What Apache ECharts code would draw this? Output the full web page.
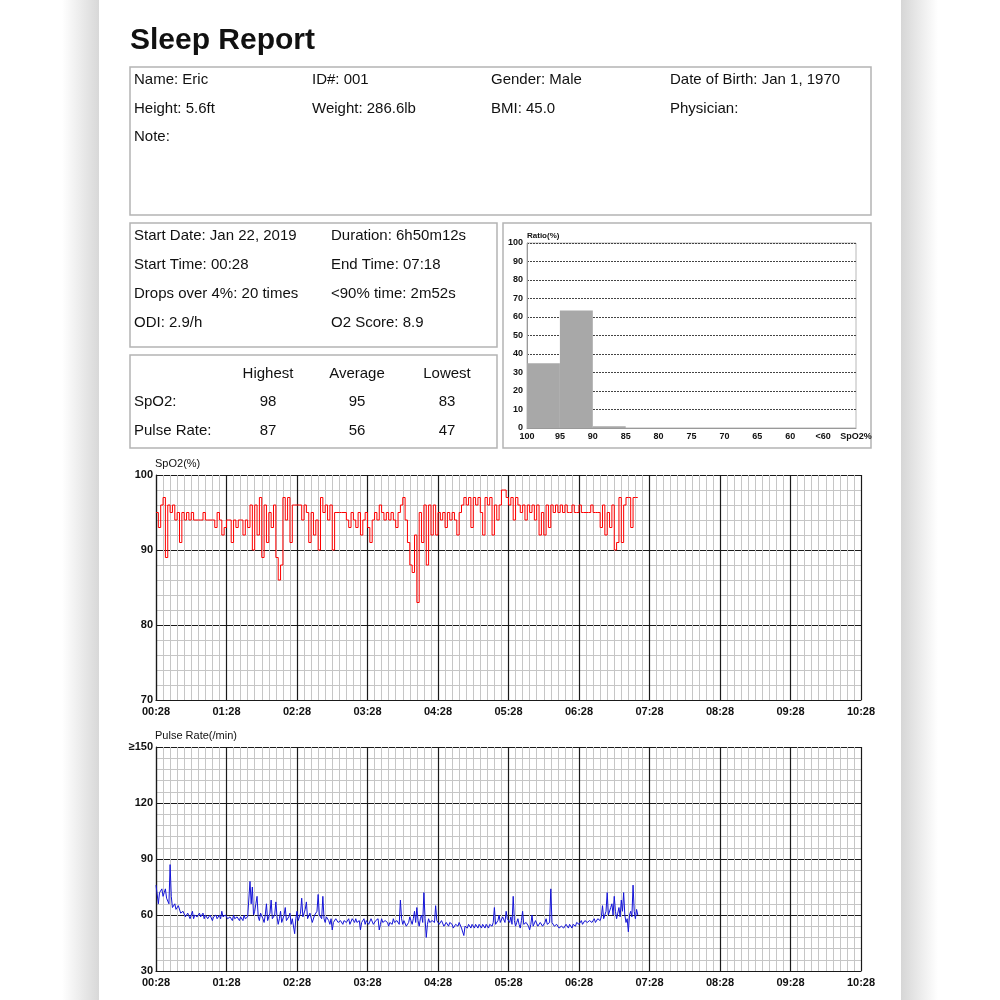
<!DOCTYPE html>
<html>
<head>
<meta charset="utf-8">
<title>Sleep Report</title>
<script src="https://cdn.jsdelivr.net/npm/echarts@6/dist/echarts.min.js"></script>
<style>
  html, body { margin: 0; padding: 0; background: #fff; }
  #chart { width: 1000px; height: 1000px; }
</style>
</head>
<body>
<div id="chart"></div>
<script>
// minutes between samples, counted from 00:28
const SPO2_STEP_MIN = 2
const PULSE_STEP_MIN = 1

const timeTicks = ['00:28', '01:28', '02:28', '03:28', '04:28', '05:28', '06:28', '07:28', '08:28', '09:28', '10:28']
const spo2Ticks = ['70', '80', '90', '100']
const pulseTicks = ['30', '60', '90', '120', '≥150']

// SpO2 histogram
const histTicks = ['100', '95', '90', '85', '80', '75', '70', '65', '60', '<60', 'SpO2%']
const histBins = ['100-95', '95-90', '90-85', '85-80', '80-75', '75-70', '70-65', '65-60', '60-<60', '<60']
const histRatio = [35, 63.5, 1, 0, 0, 0, 0, 0, 0, 0]

const spo2Values = [
  95, 93, 96, 97, 89, 96, 95, 96, 94, 95, 91, 95, 94, 95, 94, 95, 94, 94, 94, 94,
  95, 94, 94, 94, 94, 93, 95, 94, 92, 93, 94, 94, 91, 94, 93, 94, 94, 92, 94, 93,
  96, 90, 96, 92, 97, 89, 96, 91, 95, 93, 96, 89, 86, 88, 97, 94, 97, 91, 96, 96,
  96, 96, 94, 96, 95, 91, 95, 92, 94, 90, 97, 95, 96, 94, 96, 90, 95, 95, 95, 95,
  95, 94, 93, 95, 94, 93, 95, 92, 94, 95, 93, 91, 94, 95, 94, 96, 95, 94, 95, 94,
  95, 94, 93, 95, 96, 97, 94, 91, 88, 87, 92, 83, 95, 91, 96, 88, 96, 92, 96, 92,
  95, 94, 95, 93, 95, 94, 95, 94, 92, 95, 96, 97, 96, 97, 93, 97, 96, 97, 95, 92,
  97, 96, 97, 92, 96, 94, 96, 98, 98, 97, 96, 97, 94, 97, 96, 95, 96, 94, 96, 95,
  96, 94, 96, 92, 95, 92, 96, 93, 96, 95, 96, 95, 96, 95, 96, 95, 95, 96, 95, 95,
  96, 95, 95, 95, 95, 96, 95, 95, 95, 93, 96, 92, 95, 93, 96, 90, 91, 97, 91, 96,
  97, 97, 93, 97, 97, 97
]

const pulseValues = [
  76, 77, 66, 72, 73, 74, 70, 72, 74, 69, 68, 66, 87, 70, 64, 65, 66, 63, 62, 65,
  64, 61, 60, 62, 62, 59, 59, 61, 61, 58, 60, 62, 58, 60, 61, 59, 60, 61, 59, 60,
  61, 58, 60, 61, 58, 59, 60, 61, 57, 59, 59, 60, 58, 59, 60, 58, 62, 59, 58, 60,
  59, 58, 57, 59, 58, 57, 60, 58, 57, 59, 58, 57, 59, 58, 57, 60, 58, 57, 59, 58,
  78, 66, 75, 60, 62, 66, 70, 59, 57, 61, 62, 58, 56, 60, 66, 57, 58, 61, 68, 58,
  57, 60, 67, 59, 55, 58, 62, 56, 57, 60, 64, 57, 56, 59, 61, 55, 58, 57, 50, 58,
  62, 57, 56, 61, 69, 59, 60, 63, 67, 58, 58, 61, 60, 56, 57, 60, 59, 62, 71, 60,
  60, 58, 70, 58, 56, 59, 60, 57, 55, 58, 52, 56, 57, 58, 58, 56, 56, 57, 58, 55,
  57, 58, 56, 57, 58, 55, 56, 58, 57, 56, 58, 56, 56, 57, 52, 56, 57, 58, 55, 57,
  57, 55, 56, 58, 57, 55, 55, 57, 56, 58, 52, 55, 58, 56, 55, 57, 57, 56, 54, 56,
  56, 55, 58, 56, 55, 57, 57, 55, 68, 58, 55, 57, 58, 54, 53, 56, 59, 57, 55, 58,
  62, 56, 64, 57, 54, 58, 60, 56, 72, 58, 48, 55, 58, 56, 55, 57, 57, 56, 65, 57,
  56, 55, 55, 57, 56, 54, 54, 56, 55, 54, 56, 55, 55, 53, 54, 55, 55, 54, 56, 55,
  53, 54, 49, 54, 54, 53, 55, 54, 53, 55, 54, 53, 55, 54, 53, 55, 54, 53, 55, 54,
  53, 55, 54, 53, 55, 54, 54, 56, 64, 55, 55, 57, 60, 56, 56, 59, 58, 56, 62, 58,
  57, 56, 59, 55, 70, 57, 54, 56, 58, 55, 53, 57, 62, 55, 55, 56, 57, 54, 52, 55,
  60, 54, 55, 57, 57, 54, 53, 56, 56, 54, 55, 56, 58, 55, 54, 56, 74, 56, 55, 54,
  53, 55, 54, 53, 52, 54, 55, 53, 53, 55, 54, 53, 55, 54, 53, 55, 55, 54, 56, 55,
  55, 56, 57, 55, 56, 57, 57, 56, 56, 57, 58, 56, 57, 58, 56, 57, 58, 57, 57, 59,
  65, 58, 58, 62, 72, 60, 60, 64, 66, 60, 70, 62, 58, 61, 64, 59, 68, 62, 72, 60,
  56, 58, 51, 60, 62, 59, 76, 62, 58, 63, 60
]

const patientInfo = [
  ['Name: Eric', 'ID#: 001', 'Gender: Male', 'Date of Birth: Jan 1, 1970'],
  ['Height: 5.6ft', 'Weight: 286.6lb', 'BMI: 45.0', 'Physician:'],
  ['Note:']
]
const summaryInfo = [
  ['Start Date: Jan 22, 2019', 'Duration: 6h50m12s'],
  ['Start Time: 00:28', 'End Time: 07:18'],
  ['Drops over 4%: 20 times', '<90% time: 2m52s'],
  ['ODI: 2.9/h', 'O2 Score: 8.9']
]
const statsHeader = ['Highest', 'Average', 'Lowest']
const statsRows = [
  ['SpO2:', '98', '95', '83'],
  ['Pulse Rate:', '87', '56', '47']
]

const FONT = '"Liberation Sans", Arial, sans-serif'

function txt(text, x, y, size, opts) {
  opts = opts || {}
  const align = opts.align || 'left'
  return {
    type: 'text', x: x, y: y, silent: true,
    style: {
      text: text,
      font: (opts.weight || 'normal') + ' ' + size + 'px ' + FONT,
      fill: '#111',
      align: align, verticalAlign: 'middle',
      textAlign: align, textVerticalAlign: 'middle'
    }
  }
}

function box(x, y, w, h) {
  return {
    type: 'rect', silent: true,
    shape: { x: x, y: y, width: w, height: h },
    style: { fill: 'none', stroke: '#b4b4b4', lineWidth: 1.5 }
  }
}

const graphics = [
  // paper shadows
  {
    type: 'rect', silent: true, z: -10,
    shape: { x: 62, y: 0, width: 37, height: 1000 },
    style: { fill: new echarts.graphic.LinearGradient(0, 0, 1, 0, [
      { offset: 0, color: '#ffffff' }, { offset: 1, color: '#d8d8d8' }]) }
  },
  {
    type: 'rect', silent: true, z: -10,
    shape: { x: 901, y: 0, width: 37, height: 1000 },
    style: { fill: new echarts.graphic.LinearGradient(0, 0, 1, 0, [
      { offset: 0, color: '#d6d6d6' }, { offset: 1, color: '#ffffff' }]) }
  },
  txt('Sleep Report', 130, 41, 30, { weight: 'bold' }),
  box(130, 67, 741, 148),
  box(130, 223, 367, 124),
  box(130, 355, 367, 93),
  box(503, 223, 368, 225)
]

const infoCols = [134, 312, 491, 670]
patientInfo.forEach((row, r) => {
  row.forEach((s, c) => graphics.push(txt(s, infoCols[c], 80 + r * 28.5, 15)))
})
const sumCols = [134, 331]
summaryInfo.forEach((row, r) => {
  row.forEach((s, c) => graphics.push(txt(s, sumCols[c], 236 + r * 29, 15)))
})
const statCols = [268, 357, 447]
statsHeader.forEach((s, c) => graphics.push(txt(s, statCols[c], 374, 15, { align: 'center' })))
statsRows.forEach((row, r) => {
  graphics.push(txt(row[0], 134, 402 + r * 28.5, 15))
  row.slice(1).forEach((s, c) => graphics.push(txt(s, statCols[c], 402 + r * 28.5, 15, { align: 'center' })))
})

const labelStyle = { color: '#111', fontFamily: FONT, fontSize: 11, fontWeight: 'bold' }

function timeAxis(gridIndex) {
  return {
    type: 'value', gridIndex: gridIndex, min: 0, max: 600, interval: 60,
    axisLine: { show: true, lineStyle: { color: '#1a1a1a', width: 1.2 } },
    axisTick: { show: false },
    axisLabel: Object.assign({ margin: 6, formatter: v => timeTicks[v / 60] }, labelStyle),
    splitLine: { show: true, lineStyle: { color: '#1a1a1a', width: 1.2 } },
    minorTick: { show: false, splitNumber: 10 },
    minorSplitLine: { show: true, lineStyle: { color: '#c6c6c6', width: 1 } }
  }
}

function valueAxis(gridIndex, min, max, step, ticks, name) {
  return {
    type: 'value', gridIndex: gridIndex, min: min, max: max, interval: step,
    name: name, nameLocation: 'end', nameGap: 5,
    nameTextStyle: { color: '#111', fontFamily: FONT, fontSize: 11, align: 'left', padding: [0, 0, 0, -1] },
    axisLine: { show: true, lineStyle: { color: '#1a1a1a', width: 1.2 } },
    axisTick: { show: false },
    axisLabel: Object.assign({ margin: 3, formatter: v => ticks[Math.round((v - min) / step)] }, labelStyle),
    splitLine: { show: true, lineStyle: { color: '#1a1a1a', width: 1.2 } },
    minorTick: { show: false, splitNumber: 5 },
    minorSplitLine: { show: true, lineStyle: { color: '#c6c6c6', width: 1 } }
  }
}

const histLabel = { color: '#111', fontFamily: FONT, fontSize: 9, fontWeight: 'bold' }

const option = {
  animation: false,
  backgroundColor: '#fff',
  graphic: graphics,
  grid: [
    { left: 527, top: 243, width: 329, height: 185, show: true, borderColor: '#b8b8b8', borderWidth: 1, backgroundColor: 'transparent' },
    { left: 156, top: 475, width: 705, height: 225 },
    { left: 156, top: 747, width: 705, height: 224 }
  ],
  xAxis: [
    {
      type: 'value', gridIndex: 0, min: 0, max: 10, interval: 1,
      axisLine: { show: true, lineStyle: { color: '#999' } },
      axisTick: { show: false },
      axisLabel: Object.assign({ margin: 4, formatter: v => histTicks[v] }, histLabel),
      splitLine: { show: false }
    },
    {
      type: 'category', gridIndex: 0, data: histBins, show: false, boundaryGap: true
    },
    timeAxis(1),
    timeAxis(2)
  ],
  yAxis: [
    {
      type: 'value', gridIndex: 0, min: 0, max: 100, interval: 10,
      name: 'Ratio(%)', nameLocation: 'end', nameGap: 3,
      nameTextStyle: { color: '#111', fontFamily: FONT, fontSize: 8, fontWeight: 'bold', align: 'left' },
      axisLine: { show: true, lineStyle: { color: '#999' } },
      axisTick: { show: false },
      axisLabel: Object.assign({ margin: 4 }, histLabel),
      splitLine: { show: true, lineStyle: { color: '#444', width: 1, type: [2, 1] } }
    },
    valueAxis(1, 70, 100, 10, spo2Ticks, 'SpO2(%)'),
    valueAxis(2, 30, 150, 30, pulseTicks, 'Pulse Rate(/min)')
  ],
  series: [
    {
      type: 'bar', xAxisIndex: 1, yAxisIndex: 0,
      data: histRatio, barCategoryGap: '0%',
      itemStyle: { color: '#a8a8a8' }, silent: true
    },
    {
      type: 'line', xAxisIndex: 2, yAxisIndex: 1, step: 'end',
      data: spo2Values.map((v, i) => [i * SPO2_STEP_MIN, v]),
      symbol: 'none', lineStyle: { color: '#ff0000', width: 1 }, silent: true
    },
    {
      type: 'line', xAxisIndex: 3, yAxisIndex: 2,
      data: pulseValues.map((v, i) => [i * PULSE_STEP_MIN, v]),
      symbol: 'none', lineStyle: { color: '#1414d8', width: 1 }, silent: true
    }
  ]
}

const chart = echarts.init(document.getElementById('chart'))
chart.setOption(option)
</script>
</body>
</html>
